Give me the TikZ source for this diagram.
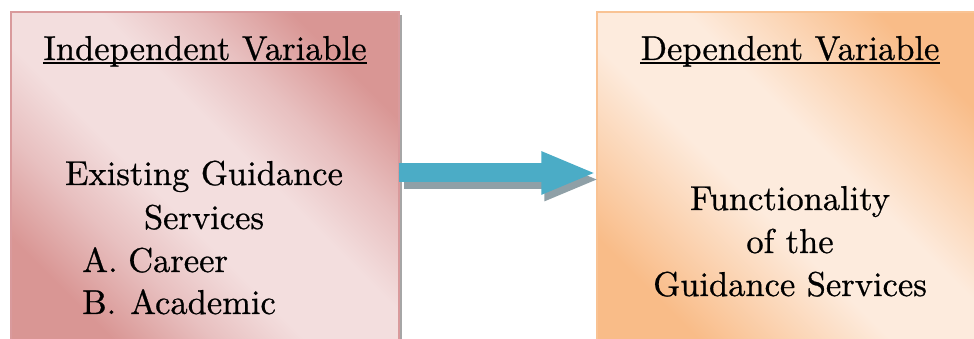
\documentclass[tikz,border=0pt]{standalone}
\usepackage{fontspec}
\newfontfamily\lmr{lmroman10-regular.otf}[FakeBold=0.7]
\usetikzlibrary{arrows.meta}
\definecolor{roseD}{HTML}{D99694}
\definecolor{roseM}{HTML}{E8C0C0}
\definecolor{roseL}{HTML}{F3DEDE}
\definecolor{roseB}{HTML}{D99A9C}
\definecolor{peachD}{HTML}{F9BC88}
\definecolor{peachM}{HTML}{FBD5B5}
\definecolor{peachL}{HTML}{FDEBDD}
\definecolor{peachB}{HTML}{F9C394}
\definecolor{arrowC}{HTML}{4BACC6}
\definecolor{arrowS}{HTML}{8FA0A7}
\pgfdeclareverticalshading{roseshade}{100bp}{color(0bp)=(roseD); color(25bp)=(roseD); color(35bp)=(roseM); color(44bp)=(roseL); color(56bp)=(roseL); color(65bp)=(roseM); color(75bp)=(roseD); color(100bp)=(roseD)}
\pgfdeclareverticalshading{peachshade}{100bp}{color(0bp)=(peachD); color(25bp)=(peachD); color(35bp)=(peachM); color(44bp)=(peachL); color(56bp)=(peachL); color(65bp)=(peachM); color(75bp)=(peachD); color(100bp)=(peachD)}
\tikzset{
  box/.style={rectangle, minimum width=388pt, minimum height=333pt, inner sep=0pt, line width=1.2pt, shading angle=-45},
  boxshadow/.style={fill=gray!70},
  txt/.style={inner sep=0pt, font=\lmr\fontsize{34.5}{43}\selectfont},
  uline/.style={line width=1.3pt},
  flow/.style={line width=19pt, -{Triangle[length=55pt,width=39pt]}},
}
\begin{document}
\begin{tikzpicture}[x=1pt,y=1pt]
\useasboundingbox (0,0) rectangle (974,339);
\fill[white] (0,0) rectangle (974,339);
\fill[boxshadow] (14,-9) rectangle (402,324);
\node[box, draw=roseB, shading=roseshade] (L) at (205,160.5) {};
\node[box, draw=peachB, shading=peachshade] (R) at (791,160.5) {};
\draw[flow, draw=arrowS, fill=arrowS] ([xshift=4pt,yshift=-1pt]L.east) -- ([xshift=3pt,yshift=-1pt]R.west);
\draw[flow, draw=arrowC, fill=arrowC] ([xshift=-1pt,yshift=5.5pt]L.east) -- ([yshift=5.5pt]R.west);
\node[txt, anchor=base] (t1) at (205,279) {Independent Variable};
\draw[uline] ([yshift=-3pt]t1.base west) -- ([yshift=-3pt]t1.base east);
\node[txt, anchor=base] (l1) at (204,154) {Existing Guidance};
\node[txt, anchor=base] (l2) at (204,110) {Services};
\node[txt, anchor=base west] (l3) at (82,67) {\makebox[46pt][l]{A.}Career};
\node[txt, anchor=base west] (l4) at (82,25) {\makebox[48pt][l]{B.}Academic};
\node[txt, anchor=base] (t2) at (790,279) {Dependent Variable};
\draw[uline] ([yshift=-3pt]t2.base west) -- ([yshift=-3pt]t2.base east);
\node[txt, anchor=base] (r1) at (790,129) {Functionality};
\node[txt, anchor=base] (r2) at (790,86) {of the};
\node[txt, anchor=base] (r3) at (790,43) {Guidance Services};
\end{tikzpicture}
\end{document}
